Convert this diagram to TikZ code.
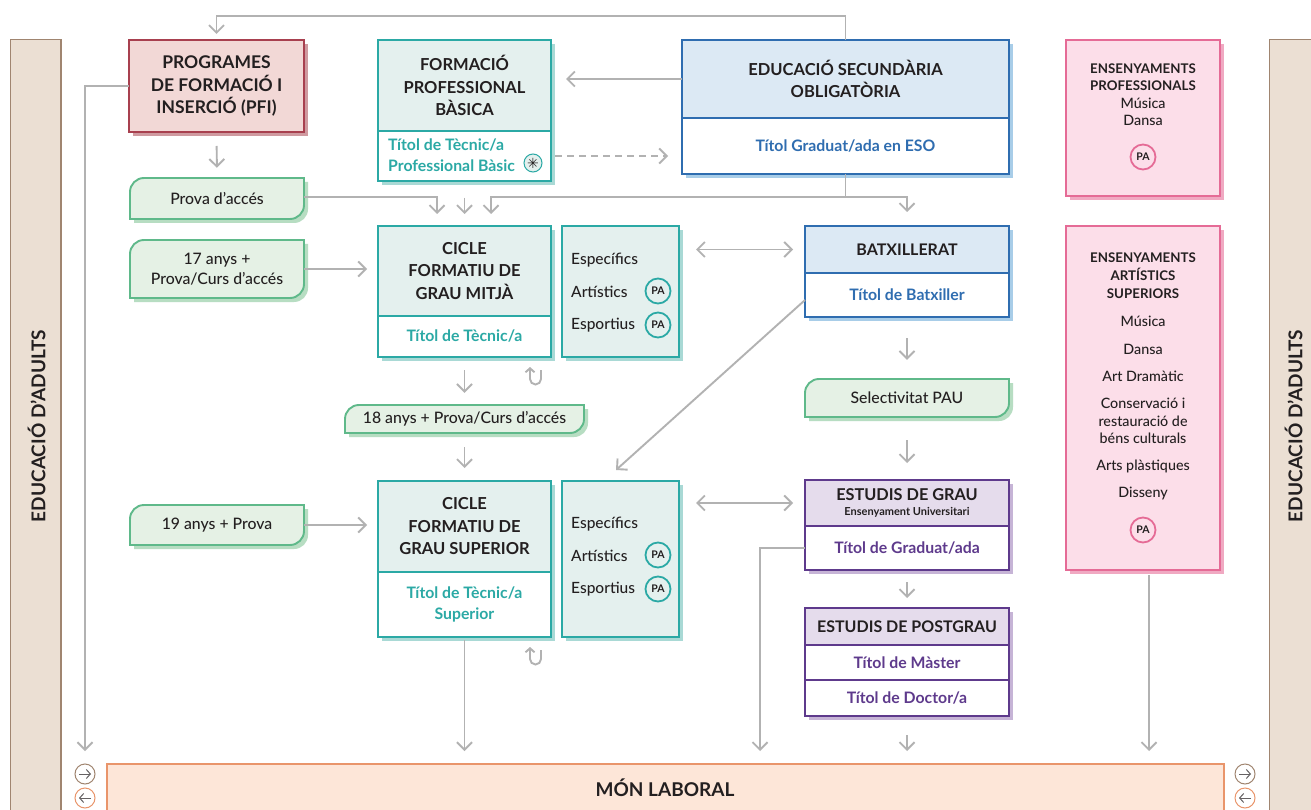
\documentclass[tikz,border=0pt]{standalone}
\usepackage{fontspec}
\setmainfont{Lato}[UprightFont={* Medium},BoldFont={* Bold}]
\newfontfamily\djv{DejaVu Sans}
\usetikzlibrary{arrows.meta,calc}
\definecolor{ink}{HTML}{231F20}
\definecolor{gr}{HTML}{B2B2B2}
\definecolor{tealB}{HTML}{2BA9A5}\definecolor{tealF}{HTML}{E4F0EE}\definecolor{tealS}{HTML}{A9D9D5}
\definecolor{blueB}{HTML}{2F6DB0}\definecolor{blueF}{HTML}{DCE9F4}\definecolor{blueS}{HTML}{A8CDE8}
\definecolor{purpB}{HTML}{5E3A8C}\definecolor{purpF}{HTML}{E5DCEC}\definecolor{purpS}{HTML}{C6B4D6}
\definecolor{redB}{HTML}{A8404F}\definecolor{redF}{HTML}{F2D8D6}\definecolor{redS}{HTML}{CF9AA0}
\definecolor{greenB}{HTML}{5FB98A}\definecolor{greenF}{HTML}{E5F1E5}\definecolor{greenS}{HTML}{B7DDC2}
\definecolor{pinkB}{HTML}{E56B96}\definecolor{pinkF}{HTML}{FCDEE9}\definecolor{pinkS}{HTML}{F0A9C2}
\definecolor{bandF}{HTML}{EBDFD3}\definecolor{bandB}{HTML}{A08570}
\definecolor{labF}{HTML}{FDE6D8}\definecolor{labB}{HTML}{E9956B}
\tikzset{
  x=1pt,y=-1pt,
  cell/.style={rectangle,inner sep=0pt,outer sep=0pt,align=center,text=ink,line width=1.9pt},
  title/.style={font=\bfseries\fontsize{16.5}{22.5}\selectfont},
  deg/.style={font=\bfseries\fontsize{15.8}{20.5}\selectfont},
  small/.style={font=\fontsize{14.3}{17.5}\selectfont,text=ink,align=center,inner sep=0pt},
  smallb/.style={font=\bfseries\fontsize{13.3}{18}\selectfont,text=ink,align=center,inner sep=0pt},
  lbl/.style={font=\fontsize{15.5}{18}\selectfont,text=ink,anchor=west,inner sep=0pt},
  tagtext/.style={font=\fontsize{15.8}{20.5}\selectfont,text=ink,align=center,inner sep=0pt},
  arr/.style={draw=gr,line width=1.9pt,-{Straight Barb[length=7.5pt,width=15pt,line width=1.9pt]}},
  arrb/.style={draw=gr,line width=1.9pt,{Straight Barb[length=7.5pt,width=15pt,line width=1.9pt]}-{Straight Barb[length=7.5pt,width=15pt,line width=1.9pt]}},
  line/.style={draw=gr,line width=1.9pt},
  pa/.style={circle,draw=#1,line width=1.8pt,minimum size=25pt,inner sep=0pt,font=\bfseries\fontsize{10.5}{10.5}\selectfont,text=ink},
  rnd/.style={circle,draw=#1,line width=1pt,minimum size=20pt,inner sep=0pt,fill=white},
}
\newcommand{\bx}[9]{%
  \pgfmathsetmacro{\cxx}{(#2+#4)/2}\pgfmathsetmacro{\cyy}{(#3+#5)/2}%
  \pgfmathsetmacro{\wdd}{#4-#2}\pgfmathsetmacro{\htt}{#5-#3}%
  \node[cell,draw=#6,fill=#7,minimum width=\wdd pt,minimum height=\htt pt,#8] (#1) at (\cxx,\cyy) {#9};}
\newcommand{\shd}[5]{\fill[#5] (#1+4,#2+4) rectangle (#3+4,#4+4);}
\newcommand{\tagbox}[6]{%
  \pgfmathsetmacro{\cxx}{(#2+#4)/2}\pgfmathsetmacro{\cyy}{(#3+#5)/2}%
  \pgfmathsetmacro{\wdd}{#4-#2}\pgfmathsetmacro{\htt}{#5-#3}%
  \fill[greenS] (#2+4,#5+4) [rounded corners=14pt] -- (#2+4,#3+4) [sharp corners] -- (#4+4,#3+4) [rounded corners=14pt] -- (#4+4,#5+4) [sharp corners] -- cycle;
  \draw[draw=greenB,fill=greenF,line width=1.9pt] (#2,#5) [rounded corners=14pt] -- (#2,#3) [sharp corners] -- (#4,#3) [rounded corners=14pt] -- (#4,#5) [sharp corners] -- cycle;
  \node[tagtext,minimum width=\wdd pt,minimum height=\htt pt] (#1) at (\cxx,\cyy) {#6};}
\begin{document}
\begin{tikzpicture}
\useasboundingbox (0,0) rectangle (1311,810);
\fill[white] (0,0) rectangle (1311,810);
% side bands
\node[cell,draw=bandB,fill=bandF,line width=1pt,minimum width=51pt,minimum height=790pt] (bandL) at (35.5,435) {};
\fill[bandB] (60,40) rectangle (61.5,815);
\node[cell,draw=bandB,fill=bandF,line width=1pt,minimum width=60pt,minimum height=790pt] (bandR) at (1299,435) {};
\node[rotate=90,font=\bfseries\fontsize{19}{20}\selectfont,text=ink,inner sep=0pt] (adL) at (36.5,426) {EDUCACIÓ D’ADULTS};
\node[rotate=90,font=\bfseries\fontsize{19}{20}\selectfont,text=ink,inner sep=0pt] (adR) at (1293.5,426) {EDUCACIÓ D’ADULTS};
% PFI
\shd{129}{40}{304}{132}{redS}
\bx{pfi}{129}{40}{304}{132}{redB}{redF}{font=\bfseries\fontsize{17.5}{22.5}\selectfont}{PROGRAMES\\DE FORMACIÓ I\\INSERCIÓ (PFI)}
% FP basica
\shd{378}{40}{551}{181}{tealS}
\bx{fpbT}{378}{40}{551}{131}{tealB}{tealF}{title}{FORMACIÓ\\PROFESSIONAL\\BÀSICA}
\bx{fpbB}{378}{131}{551}{181}{tealB}{white}{}{}
\node[deg,text=tealB,align=left,anchor=west,inner sep=0pt] (fpbtxt) at (388,155) {Títol de Tècnic/a\\Professional Bàsic};
\node[circle,draw=tealB,fill=tealF,line width=1pt,minimum size=18pt,inner sep=0pt,font=\djv\fontsize{14}{14}\selectfont,text=ink] (star) at (533,163) {✳};
% ESO
\shd{682}{40}{1009}{174}{blueS}
\bx{esoT}{682}{40}{1009}{118}{blueB}{blueF}{title}{EDUCACIÓ SECUNDÀRIA\\OBLIGATÒRIA}
\bx{esoB}{682}{118}{1009}{174}{blueB}{white}{deg,text=blueB}{Títol Graduat/ada en ESO}
% tags
\tagbox{prova}{130}{178}{304}{219}{Prova d’accés}
\tagbox{t17}{130}{240}{304}{298}{17 anys +\\Prova/Curs d’accés}
\tagbox{t18}{345}{405}{584}{433}{18 anys + Prova/Curs d’accés}
\tagbox{t19}{130}{505}{304}{545}{19 anys + Prova}
\tagbox{pau}{805}{379}{1009}{417}{Selectivitat PAU}
% CFGM
\shd{378}{226}{551}{357}{tealS}
\bx{cfgmT}{378}{226}{551}{316}{tealB}{tealF}{title}{CICLE\\FORMATIU DE\\GRAU MITJÀ}
\bx{cfgmB}{378}{316}{551}{357}{tealB}{white}{deg,text=tealB}{Títol de Tècnic/a}
\shd{562}{226}{679}{357}{tealS}
\bx{espM}{562}{226}{679}{357}{tealB}{tealF}{}{}
\node[lbl] (m1) at (571,260) {Específics};
\node[lbl] (m2) at (571,292) {Artístics};
\node[lbl] (m3) at (571,325) {Esportius};
\node[pa=tealB,fill=tealF] (mp1) at (658,291) {PA};
\node[pa=tealB,fill=tealF] (mp2) at (658,325) {PA};
% Batxillerat
\shd{805}{226}{1009}{317}{blueS}
\bx{batT}{805}{226}{1009}{273}{blueB}{blueF}{font=\bfseries\fontsize{16}{20}\selectfont}{BATXILLERAT}
\bx{batB}{805}{273}{1009}{317}{blueB}{white}{deg,text=blueB}{Títol de Batxiller}
% CFGS
\shd{378}{481}{551}{637}{tealS}
\bx{cfgsT}{378}{481}{551}{572}{tealB}{tealF}{title}{CICLE\\FORMATIU DE\\GRAU SUPERIOR}
\bx{cfgsB}{378}{572}{551}{637}{tealB}{white}{deg,text=tealB}{Títol de Tècnic/a\\Superior}
\shd{562}{481}{679}{637}{tealS}
\bx{espS}{562}{481}{679}{637}{tealB}{tealF}{}{}
\node[lbl] (s1) at (571,524) {Específics};
\node[lbl] (s2) at (571,556) {Artístics};
\node[lbl] (s3) at (571,589) {Esportius};
\node[pa=tealB,fill=tealF] (sp1) at (658,555) {PA};
\node[pa=tealB,fill=tealF] (sp2) at (658,589) {PA};
% Grau
\shd{805}{480}{1009}{570}{purpS}
\bx{grT}{805}{480}{1009}{526}{purpB}{purpF}{font=\bfseries\fontsize{16.3}{16.5}\selectfont}{ESTUDIS DE GRAU\\[-1pt]{\fontsize{11}{12}\selectfont Ensenyament Universitari}}
\bx{grB}{805}{526}{1009}{570}{purpB}{white}{deg,text=purpB}{Títol de Graduat/ada}
% Postgrau
\shd{805}{608}{1009}{716}{purpS}
\bx{pgT}{805}{608}{1009}{645}{purpB}{purpF}{font=\bfseries\fontsize{16}{20}\selectfont}{ESTUDIS DE POSTGRAU}
\bx{pgM}{805}{645}{1009}{680}{purpB}{white}{deg,text=purpB}{Títol de Màster}
\bx{pgD}{805}{680}{1009}{716}{purpB}{white}{deg,text=purpB}{Títol de Doctor/a}
% Ensenyaments professionals
\shd{1066}{40}{1220}{196}{pinkS}
\bx{ep}{1066}{40}{1220}{196}{pinkB}{pinkF}{}{}
\node[smallb] (ep1) at (1143,77) {ENSENYAMENTS\\[-0.5pt]PROFESSIONALS};
\node[small] (ep2) at (1143,112) {Música\\Dansa};
\node[pa=pinkB,fill=pinkF] (ep3) at (1143,157) {PA};
% Ensenyaments artistics
\shd{1066}{226}{1220}{570}{pinkS}
\bx{ea}{1066}{226}{1220}{570}{pinkB}{pinkF}{}{}
\node[smallb] (ea1) at (1143,276) {ENSENYAMENTS\\ARTÍSTICS\\SUPERIORS};
\node[small] (ea2) at (1143,321) {Música};
\node[small] (ea3) at (1143,349) {Dansa};
\node[small] (ea4) at (1143,376) {Art Dramàtic};
\node[small] (ea5) at (1143,421) {Conservació i\\restauració de\\béns culturals};
\node[small] (ea6) at (1143,466) {Arts plàstiques};
\node[small] (ea7) at (1143,493) {Disseny};
\node[pa=pinkB,fill=pinkF] (ea8) at (1143,530) {PA};
% Mon laboral
\node[cell,draw=labB,fill=labF,line width=1.2pt,minimum width=1117pt,minimum height=56pt] (lab) at (665.5,792) {};
\node[font=\bfseries\fontsize{19}{20}\selectfont,text=ink,inner sep=0pt] (labt) at (665,788) {MÓN LABORAL};
% circles
\node[rnd=bandB] (cl1) at (85,774) {};
\node[rnd=labB] (cl2) at (85,798) {};
\node[rnd=bandB] (cr1) at (1245,774) {};
\node[rnd=labB] (cr2) at (1245,798) {};
\foreach \n in {cl1,cr1}{\draw[draw=ink!70,line width=1pt,-{Straight Barb[length=4pt,width=9pt,line width=1pt]}] ($(\n)+(-6,0)$) -- ($(\n)+(6,0)$);}
\foreach \n in {cl2,cr2}{\draw[draw=ink!70,line width=1pt,-{Straight Barb[length=4pt,width=9pt,line width=1pt]}] ($(\n)+(6,0)$) -- ($(\n)+(-6,0)$);}
% coordinates
\coordinate (topy) at (0,16);
\coordinate (topturn) at (esoT.north |- topy);
\coordinate (labL) at (85,751);
\coordinate (inA) at (437,214);
\coordinate (inC) at (491,214);
\coordinate (proE) at (304,197);
\coordinate (br) at (esoB.south |- proE);
\coordinate (midG) at (760,751);
\coordinate (diag) at (805,300);
\coordinate (diagE) at (616,470);
\coordinate (eaOut) at ($(ea.south)+(6,0)$);
% connectors
\draw[arr,shorten >=6pt] (esoT.north) -- (topturn) -| (pfi.north);
\draw[arr] (pfi.west) -| (labL);
\draw[arr,shorten <=14pt,shorten >=10pt] (pfi.south) -- (prova.north);
\draw[arr,shorten >=15pt] (esoT.west) -- (esoT.west -| fpbT.east);
\draw[arr,dashed,dash pattern=on 7pt off 5pt,shorten <=4pt,shorten >=14pt] (fpbB.east) -- (fpbB.east -| esoB.west);
\draw[arr] (proE) -| (inA);
\draw[arr,shorten <=17pt,shorten >=12pt] (fpbB.south) -- (cfgmT.north);
\draw[line] (esoB.south) -- (br);
\draw[arr] (br) -| (inC);
\draw[arr,shorten >=14pt] (br) -| (batT.north);
\draw[arr,shorten >=11pt] (t17.east) -- (cfgmT.west |- t17.east);
\draw[arrb,shorten <=17pt,shorten >=12pt] (espM.east |- batT.west) -- (batT.west);
\draw[arr,shorten <=21pt,shorten >=19pt] (batB.south -| pau.north) -- (pau.north);
\draw[arr] (diag) -- (diagE);
\draw[arr,shorten <=13pt,shorten >=12pt] (cfgmB.south) -- (t18.north);
\draw[arr,shorten <=14pt,shorten >=13pt] (t18.south) -- (cfgsT.north);
\draw[arr,shorten >=11pt] (t19.east) -- (cfgsT.west |- t19.east);
\draw[arrb,shorten <=17pt,shorten >=12pt] (espS.east |- grT.west) -- (grT.west);
\draw[arr,shorten <=23pt,shorten >=17pt] (pau.south) -- (grT.north);
\draw[arr,shorten <=12pt,shorten >=10pt] (grB.south) -- (pgT.north);
\draw[arr] (grB.west) -| (midG);
\draw[arr,shorten <=19pt,shorten >=13pt] (pgD.south) -- (lab.north -| pgD.south);
\draw[arr,shorten <=3pt,shorten >=13pt] (cfgsB.south) -- (lab.north -| cfgsB.south);
\draw[arr,shorten <=5pt,shorten >=13pt] (eaOut) -- (lab.north -| eaOut);
% repeat marks
\coordinate (rm1) at (535,376);
\coordinate (rm2) at (535,656);
\foreach \n in {rm1,rm2}{
\draw[draw=gr,line width=1.9pt,-{Straight Barb[length=4pt,width=9pt,line width=1.9pt]}] ($(\n)+(6,-6)$) -- ($(\n)+(6,3)$) arc[start angle=0,end angle=180,radius=5.5] -- ($(\n)+(-5,-9)$);}
\end{tikzpicture}
\end{document}
